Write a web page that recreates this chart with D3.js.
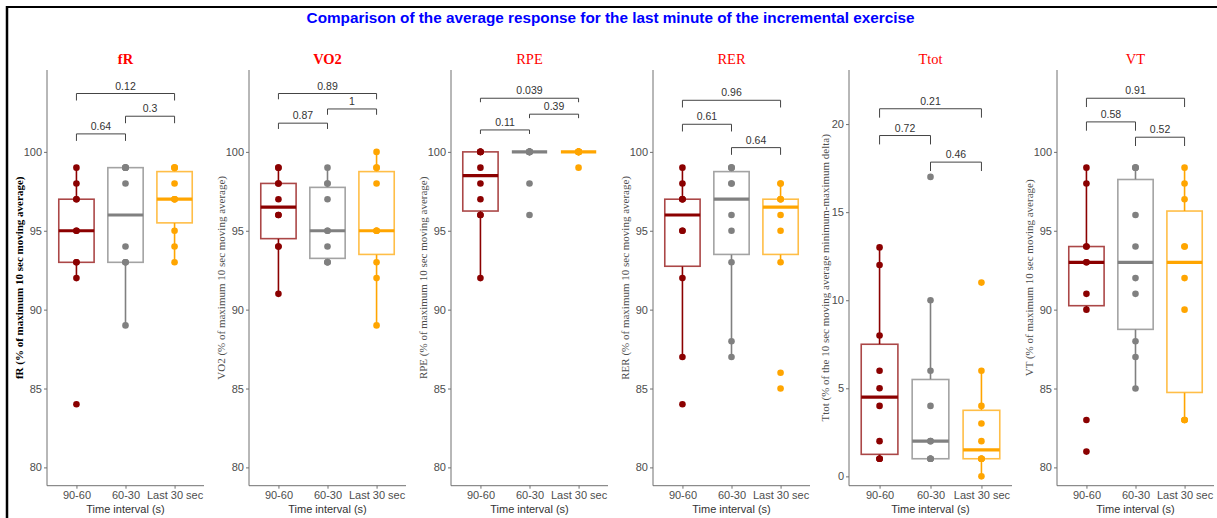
<!DOCTYPE html>
<html>
<head>
<meta charset="utf-8">
<title>Comparison of the average response</title>
<style>
  body { margin: 0; background: #fff; }
  svg { display: block; }
  .tick text { font-family: "Liberation Sans", Arial, sans-serif; font-size: 11px; fill: #4d4d4d; }
  .tick line, .domain { stroke: #707070; }
</style>
</head>
<body>
<div id="chart"></div>
<script src="https://d3js.org/d3.v7.min.js"></script>
<script>
var W = 1217, H = 518;

// ---- data ----
var intervals = ["90-60", "60-30", "Last 30 sec"];
var variables = ["fR", "VO2", "RPE", "RER", "Ttot", "VT"];
var yTitles = [
  "fR (% of maximum 10 sec moving average)",
  "VO2 (% of maximum 10 sec moving average)",
  "RPE (% of maximum 10 sec moving average)",
  "RER (% of maximum 10 sec moving average)",
  "Ttot (% of the 10 sec moving average minimum-maximum delta)",
  "VT (% of maximum 10 sec moving average)"
];

// one array per interval, 10 subjects each
var fR   = [[84,92,93,93,95,95,97,97,98,99], [89,93,93,93,94,98,99,99,99,99], [93,94,95,97,97,97,98,99,99,99]];
var VO2  = [[91,94,94,96,96,97,98,98,99,99], [93,93,93,94,95,95,97,98,98,99], [89,92,93,95,95,95,98,99,99,100]];
var RPE  = [[92,96,96,97,98,99,100,100,100,100], [96,98,100,100,100,100,100,100,100,100], [99,100,100,100,100,100,100,100,100,100]];
var RER  = [[84,87,92,95,95,97,97,97,98,99], [87,88,93,95,96,98,98,99,99,99], [85,86,93,95,96,97,97,97,98,98]];
var Ttot = [[1,1,1,2,4,5,6,8,12,13], [1,1,1,1,2,2,4,6,10,17], [0,1,1,1,1,2,3,4,6,11]];
var VT   = [[81,83,90,91,93,93,94,94,98,99], [85,87,88,91,92,94,96,99,99,99], [83,83,83,90,92,94,94,97,98,99]];

// pairwise tests: [from, to, p-value, bracket height in data units]
var fRTests   = [[0, 2, "0.12", 103.7],  [1, 2, "0.3", 102.26], [0, 1, "0.64", 101.14]];
var VO2Tests  = [[0, 2, "0.89", 103.7],  [1, 2, "1", 102.72],   [0, 1, "0.87", 101.82]];
var RPETests  = [[0, 2, "0.039", 103.4], [1, 2, "0.39", 102.39], [0, 1, "0.11", 101.39]];
var RERTests  = [[0, 2, "0.96", 103.27], [0, 1, "0.61", 101.75], [1, 2, "0.64", 100.27]];
var TtotTests = [[0, 2, "0.21", 20.87],  [0, 1, "0.72", 19.35],  [1, 2, "0.46", 17.84]];
var VTTests   = [[0, 2, "0.91", 103.4],  [0, 1, "0.58", 101.9],  [1, 2, "0.52", 100.93]];

var pctTicks  = [80, 85, 90, 95, 100];
var ttotTicks = [0, 5, 10, 15, 20];

var values = [fR, VO2, RPE, RER, Ttot, VT];
var tests  = [fRTests, VO2Tests, RPETests, RERTests, TtotTests, VTTests];

// ---- style ----
var colors = ["#8B0000", "#808080", "#FFA500"];
var boldTitles = ["fR", "VO2"];
var tipPx = [7, 5.8, 4, 7.2, 8.9, 8.8];
var sans = '"Liberation Sans", Arial, sans-serif';
var serif = '"Liberation Serif", "Times New Roman", serif';

var svg = d3.select("#chart").append("svg")
    .attr("width", W)
    .attr("height", H);

svg.append("rect").attr("width", W).attr("height", H).attr("fill", "#fff");

// frame (only top and left edges are visible in the crop)
svg.append("line").attr("x1", 6).attr("x2", W).attr("y1", 7).attr("y2", 7)
    .attr("stroke", "#000").attr("stroke-width", 2);
svg.append("line").attr("x1", 7).attr("x2", 7).attr("y1", 6).attr("y2", H)
    .attr("stroke", "#000").attr("stroke-width", 2.5);

svg.append("text")
    .attr("x", 610.5).attr("y", 22.5)
    .attr("text-anchor", "middle")
    .style("font-family", sans)
    .style("font-size", "15.3px")
    .style("font-weight", "bold")
    .style("fill", "#0000FF")
    .text("Comparison of the average response for the last minute of the incremental exercise");

var plotTop = 70, plotBottom = 485.7;

variables.forEach(function(name, i) {
  var x0 = 8 + i * 202;
  var isTtot = name === "Ttot";
  var left = x0 + (isTtot ? 33 : 39);
  var right = x0 + 196;

  var y = d3.scaleLinear()
      .domain(isTtot ? [-0.53, 23.07] : [78.84, 105.19])
      .range([plotBottom, plotTop]);

  // discrete axis like ggplot: categories at 1..3 on [0.4, 3.6]
  var xc = d3.scaleLinear().domain([0.4, 3.6]).range([left, right]);
  var xPos = function(k) { return xc(k + 1); };
  var unit = xc(1) - xc(0);
  var xBand = d3.scalePoint().domain(intervals).range([xPos(0), xPos(2)]);

  var g = svg.append("g");

  // title
  g.append("text")
      .attr("x", (left + right) / 2).attr("y", 63.5)
      .attr("text-anchor", "middle")
      .style("font-family", serif)
      .style("font-size", "14.5px")
      .style("font-weight", boldTitles.indexOf(name) >= 0 ? "bold" : "normal")
      .style("fill", "#FF0000")
      .text(name);

  // y axis
  var yAxis = g.append("g")
      .attr("transform", "translate(" + left + ",0)")
      .call(d3.axisLeft(y).tickValues(isTtot ? ttotTicks : pctTicks).tickSize(3).tickPadding(2).tickSizeOuter(0));
  yAxis.select(".domain").attr("d", "M0," + plotTop + "V" + plotBottom);
  yAxis.selectAll(".tick text").attr("fill", "#4d4d4d");

  // x axis
  var xAxis = g.append("g")
      .attr("transform", "translate(0," + plotBottom + ")")
      .call(d3.axisBottom(xBand).tickSize(3).tickPadding(3).tickSizeOuter(0));
  xAxis.select(".domain").attr("d", "M" + left + ",0H" + right);
  xAxis.selectAll(".tick text").attr("fill", "#4d4d4d");

  // axis titles
  g.append("text")
      .attr("x", (left + right) / 2).attr("y", 512.5)
      .attr("text-anchor", "middle")
      .style("font-family", sans)
      .style("font-size", "11px")
      .style("fill", "#333")
      .text("Time interval (s)");

  var labX = left - (isTtot ? 23.7 : 28.5);
  g.append("text")
      .attr("transform", "translate(" + (labX + 4) + "," + ((plotTop + plotBottom) / 2) + ") rotate(-90)")
      .attr("text-anchor", "middle")
      .style("font-family", serif)
      .style("font-size", "11px")
      .style("font-weight", name === "fR" ? "bold" : "normal")
      .style("fill", name === "fR" ? "#000" : "#4d4d4d")
      .text(yTitles[i]);

  // boxplots
  values[i].forEach(function(vals, k) {
    var s = vals.slice().sort(d3.ascending);
    var q1 = d3.quantile(s, 0.25), med = d3.quantile(s, 0.5), q3 = d3.quantile(s, 0.75);
    var iqr = q3 - q1;
    var lo = d3.min(s.filter(function(v) { return v >= q1 - 1.5 * iqr; }));
    var hi = d3.max(s.filter(function(v) { return v <= q3 + 1.5 * iqr; }));
    var cx = xPos(k), hw = unit * 0.36, col = colors[k];

    g.append("line").attr("x1", cx).attr("x2", cx).attr("y1", y(q3)).attr("y2", y(hi))
        .attr("stroke", col).attr("stroke-width", 1.6);
    g.append("line").attr("x1", cx).attr("x2", cx).attr("y1", y(q1)).attr("y2", y(lo))
        .attr("stroke", col).attr("stroke-width", 1.6);
    g.append("rect")
        .attr("x", cx - hw).attr("width", 2 * hw)
        .attr("y", y(q3)).attr("height", Math.max(0, y(q1) - y(q3)))
        .attr("fill", "#fff")
        .attr("stroke", col).attr("stroke-opacity", 0.72).attr("stroke-width", 1.6);
    g.append("line").attr("x1", cx - hw).attr("x2", cx + hw).attr("y1", y(med)).attr("y2", y(med))
        .attr("stroke", col).attr("stroke-width", 3.2);

    g.selectAll(null).data(s).enter().append("circle")
        .attr("cx", cx).attr("cy", function(v) { return y(v); })
        .attr("r", 3.3)
        .attr("fill", col);
  });

  // significance brackets
  var tip = tipPx[i];
  tests[i].forEach(function(t) {
    var xa = xPos(t[0]), xb = xPos(t[1]), yy = y(t[3]);
    g.append("path")
        .attr("d", "M" + xa + "," + (yy + tip) + "V" + yy + "H" + xb + "V" + (yy + tip))
        .attr("fill", "none")
        .attr("stroke", "#444")
        .attr("stroke-width", 1);
    g.append("text")
        .attr("x", (xa + xb) / 2).attr("y", yy - 4)
        .attr("text-anchor", "middle")
        .style("font-family", sans)
        .style("font-size", "10.5px")
        .style("fill", "#333")
        .text(t[2]);
  });
});
</script>
</body>
</html>
